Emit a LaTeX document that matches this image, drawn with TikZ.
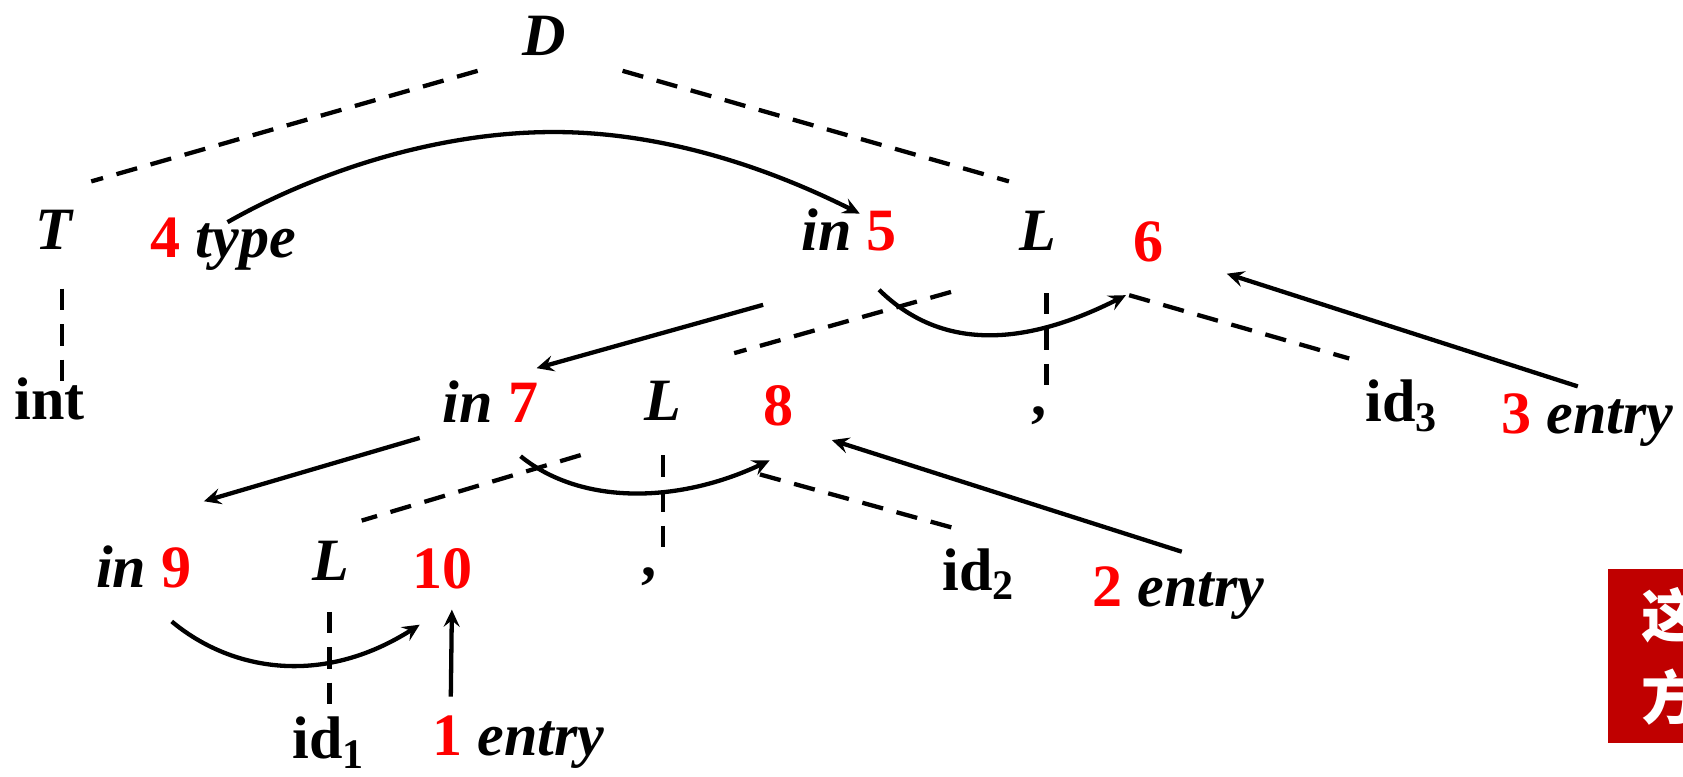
\documentclass[tikz,border=0pt]{standalone}
\usepackage{fontspec}
\setmainfont{Liberation Serif}
\newfontfamily\cjk{Noto Sans CJK SC}
\usepackage{xcolor}
\usetikzlibrary{arrows.meta}
\definecolor{boxred}{RGB}{192,0,0}

\begin{document}
\begin{tikzpicture}[x=0.5pt,y=-0.5pt,
  sym/.style={font=\fontsize{28}{34}\selectfont\bfseries\itshape,anchor=base,inner sep=0pt},
  tok/.style={font=\fontsize{28}{34}\selectfont\bfseries,anchor=base,inner sep=0pt},
  num/.style={tok,text=red},
  tree/.style={line width=2pt,dash pattern=on 10pt off 6.5pt},
  arr/.style={-{Stealth[length=8pt,width=7.5pt,inset=3pt]},line width=2pt},
  note/.style={fill=boxred,text=white,font=\fontsize{27}{38.5}\selectfont\cjk\bfseries,
    align=center,minimum width=58pt,minimum height=81pt,inner sep=0pt}]
\useasboundingbox (0,0) rectangle (1568,723);
% parse tree symbols
\node[sym] (D)   at (507,52)  {D};
\node[sym] (T)   at (50,232)  {T};
\node[sym] (typ) at (208,240) {\textcolor{red}{\upshape 4} type};
\node[sym] (in5) at (791,233) {in \textcolor{red}{\upshape 5}};
\node[sym] (L1)  at (967,233) {L};
\node[num] (n6)  at (1070,244) {6};
\node[tok] (int) at (46,391)  {int};
\node[sym] (in7) at (457,394) {in \textcolor{red}{\upshape 7}};
\node[sym] (L2)  at (618,392) {L};
\node[num] (n8)  at (725,396) {8};
\node[tok] (cm1) at (968,387) {,};
\node[tok] (id3) at (1306,393) {id\textsubscript{3}};
\node[sym] (en3) at (1479,404) {\textcolor{red}{\upshape 3} entry};
\node[sym] (in9) at (134,547) {in \textcolor{red}{\upshape 9}};
\node[sym] (L3)  at (308,541) {L};
\node[num] (n10) at (412,548) {10};
\node[tok] (cm2) at (605,537) {,};
\node[tok] (id2) at (912,550) {id\textsubscript{2}};
\node[sym] (en2) at (1098,565) {\textcolor{red}{\upshape 2} entry};
\node[tok] (id1) at (306,707) {id\textsubscript{1}};
\node[sym] (en1) at (483,704) {\textcolor{red}{\upshape 1} entry};
% tree edges
\draw[tree] ([shift={(-62,14)}]D.base) -- ([shift={(35,-63)}]T.base);
\draw[tree] ([shift={(73,14)}]D.base) -- ([shift={(-27,-64)}]L1.base);
\draw[tree] ([shift={(8,37)}]T.base) -- ([shift={(12,-35)}]int.base);
\draw[tree] ([shift={(-81,39)}]L1.base) -- ([shift={(66,-63)}]L2.base);
\draw[tree] ([shift={(8,40)}]L1.base) -- ([shift={(7,-24)}]cm1.base);
\draw[tree] ([shift={(85,42)}]L1.base) -- ([shift={(-49,-59)}]id3.base);
\draw[tree] ([shift={(-77,32)}]L2.base) -- ([shift={(29,-56)}]L3.base);
\draw[tree] ([shift={(0,32)}]L2.base) -- ([shift={(13,-25)}]cm2.base);
\draw[tree] ([shift={(90,50)}]L2.base) -- ([shift={(-16,-56)}]id2.base);
\draw[tree] ([shift={(-1,29)}]L3.base) -- ([shift={(1,-47)}]id1.base);
% dependency arrows
\draw[arr] ([shift={(4,-33)}]typ.base) .. controls +(70,-40) and +(-120,0) .. (516,123)
  .. controls +(120,0) and +(-60,-30) .. ([shift={(10,-34)}]in5.base);
\draw[arr] ([shift={(-80,51)}]in5.base) -- ([shift={(43,-51)}]in7.base);
\draw[arr] ([shift={(28,37)}]in5.base) .. controls +(61,60) and +(-89,45) .. ([shift={(-21,31)}]n6.base);
\draw[arr] ([shift={(-9,-44)}]en3.base) -- ([shift={(73,11)}]n6.base);
\draw[arr] ([shift={(-66,14)}]in7.base) -- ([shift={(56,-80)}]in9.base);
\draw[arr] ([shift={(28,31)}]in7.base) .. controls +(55,45) and +(-87,41) .. ([shift={(-8,33)}]n8.base);
\draw[arr] ([shift={(3,-51)}]en2.base) -- ([shift={(50,14)}]n8.base);
\draw[arr] ([shift={(26,32)}]in9.base) .. controls +(55,46) and +(-91,58) .. ([shift={(-21,34)}]n10.base);
\draw[arr] ([shift={(-63,-55)}]en1.base) -- ([shift={(9,20)}]n10.base);
% note box, cut by the page edge
\node[note,anchor=north west] (box) at (1498,530) {这\\方};
\end{tikzpicture}
\end{document}
